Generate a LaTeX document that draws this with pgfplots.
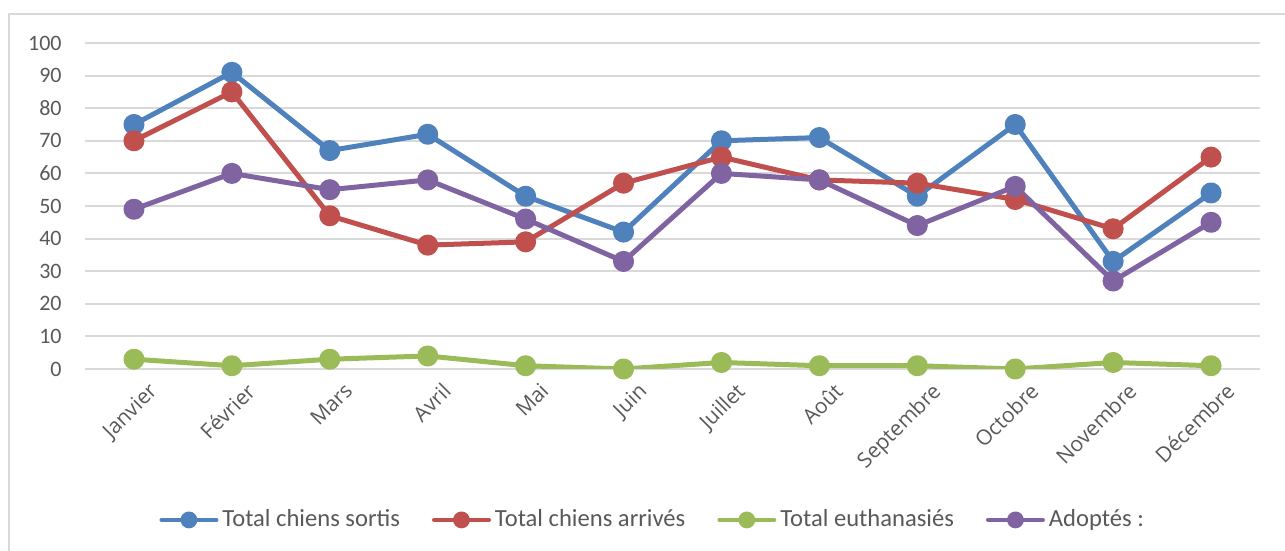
\documentclass[border=0pt]{standalone}
\usepackage{pgfplots}
\pgfplotsset{compat=1.18}
\usepackage{fontspec}
\setmainfont{Carlito}
\newfontfamily\monthfont{Open Sans}
\definecolor{cblue}{HTML}{4F81BD}
\definecolor{cred}{HTML}{C0504D}
\definecolor{cgreen}{HTML}{9BBB59}
\definecolor{cpurple}{HTML}{8064A2}
\definecolor{cgrid}{HTML}{D9D9D9}
\definecolor{ctext}{HTML}{595959}
\begin{document}
\begin{tikzpicture}
\path[use as bounding box] (0,0) rectangle (642.5pt,275.5pt);
\draw[cgrid, line width=1pt] (4.5pt,-10pt) -- (4.5pt,268.5pt) -- (650pt,268.5pt);
\begin{axis}[
  at={(42.5pt,91pt)}, anchor=south west,
  scale only axis, width=587.5pt, height=163pt,
  xmin=-0.5, xmax=11.5, ymin=0, ymax=100,
  axis line style={draw=none},
  ytick={0,10,...,100},
  xtick={0,...,11},
  xticklabels={Janvier,Février,Mars,Avril,Mai,Juin,Juillet,Août,Septembre,Octobre,Novembre,Décembre},
  major tick length=0pt,
  ymajorgrids, grid style={cgrid, line width=1pt},
  tick label style={text=ctext, font=\fontsize{11}{13}\selectfont},
  /pgf/number format/assume math mode=true,
  yticklabel style={anchor=east, inner sep=0pt, xshift=-11.5pt},
  xticklabel style={rotate=45, anchor=north east, inner sep=0pt, xshift=0.5pt, yshift=-9pt, font=\monthfont\fontsize{10.5}{12}\selectfont},
  every axis plot/.append style={line width=2.5pt, mark=*, mark size=4pt, line join=round},
  legend columns=4,
  legend style={draw=none, fill=none, at={(0.484,-0.463)}, anchor=center,
    font=\fontsize{12.3}{14}\selectfont, text=ctext,
    /tikz/every even column/.append style={column sep=14pt},
    /tikz/every odd column/.append style={column sep=0pt}},
  legend cell align=left,
  legend image code/.code={\draw[mark repeat=2,mark phase=2,line cap=round,#1,line width=2pt,mark size=3.2pt] plot coordinates {(0pt,0pt) (13.75pt,0pt) (27.5pt,0pt)};},
]
\addplot[cblue, mark options={fill=cblue}] coordinates {(0,75) (1,91) (2,67) (3,72) (4,53) (5,42) (6,70) (7,71) (8,53) (9,75) (10,33) (11,54)};
\addlegendentry{Total chiens sortis}
\addplot[cred, mark options={fill=cred}] coordinates {(0,70) (1,85) (2,47) (3,38) (4,39) (5,57) (6,65) (7,58) (8,57) (9,52) (10,43) (11,65)};
\addlegendentry{Total chiens arrivés}
\addplot[cgreen, mark options={fill=cgreen}] coordinates {(0,3) (1,1) (2,3) (3,4) (4,1) (5,0) (6,2) (7,1) (8,1) (9,0) (10,2) (11,1)};
\addlegendentry{Total euthanasiés}
\addplot[cpurple, mark options={fill=cpurple}] coordinates {(0,49) (1,60) (2,55) (3,58) (4,46) (5,33) (6,60) (7,58) (8,44) (9,56) (10,27) (11,45)};
\addlegendentry{Adoptés :}
\end{axis}
\end{tikzpicture}
\end{document}
